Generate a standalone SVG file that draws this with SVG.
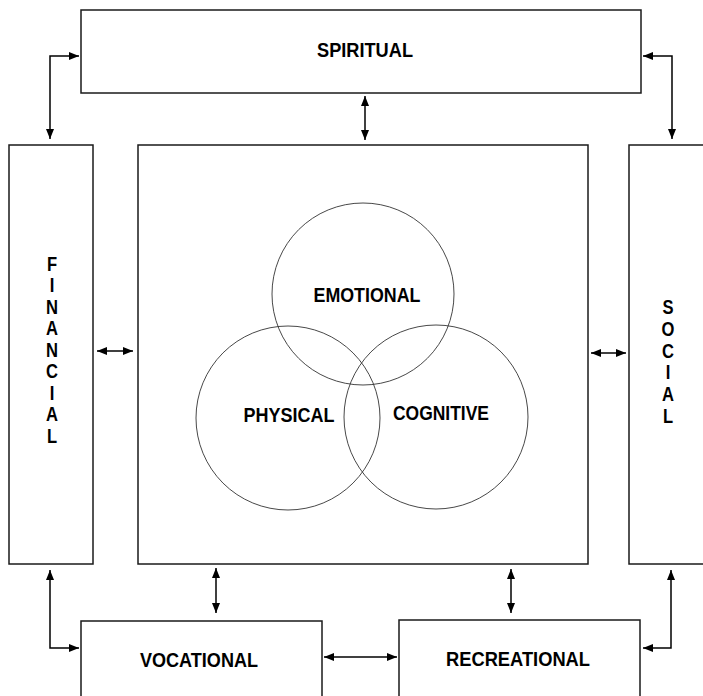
<svg xmlns="http://www.w3.org/2000/svg" width="703" height="696" viewBox="0 0 703 696">
<style>
.box{fill:#fff;stroke:#1a1a1a;stroke-width:1.5}
.circ{fill:none;stroke:#333;stroke-width:0.9}
.lbl{font-family:"Liberation Sans",Arial,sans-serif;font-weight:bold;font-size:19.5px;fill:#000;text-anchor:middle}
.con{fill:none;stroke:#000;stroke-width:1.5}
</style>
<defs>
<marker id="ah" markerUnits="userSpaceOnUse" markerWidth="10" markerHeight="8" refX="10" refY="4" orient="auto-start-reverse">
<path d="M0,0 L10,4 L0,8 Z" fill="#000"/>
</marker>
</defs>
<rect width="703" height="696" fill="#fff"/>
<g id="spiritual"><rect class="box" x="81" y="10" width="560" height="83"/><text class="lbl" x="365" y="57" textLength="96" lengthAdjust="spacingAndGlyphs">SPIRITUAL</text></g>
<g id="financial"><rect class="box" x="9" y="145" width="84" height="419"/>
<g transform="translate(52,0) scale(0.85,1)">
<text class="lbl" x="0" y="271">F</text><text class="lbl" x="0" y="292.5">I</text><text class="lbl" x="0" y="314">N</text><text class="lbl" x="0" y="335.5">A</text><text class="lbl" x="0" y="357">N</text><text class="lbl" x="0" y="378.5">C</text><text class="lbl" x="0" y="400">I</text><text class="lbl" x="0" y="421.5">A</text><text class="lbl" x="0" y="443">L</text></g></g>
<g id="center"><rect class="box" x="138" y="145" width="450" height="419"/></g>
<g id="social"><rect class="box" x="629" y="145" width="84" height="419"/>
<g transform="translate(668,0) scale(0.85,1)">
<text class="lbl" x="0" y="314">S</text><text class="lbl" x="0" y="335.8">O</text><text class="lbl" x="0" y="357.6">C</text><text class="lbl" x="0" y="379.4">I</text><text class="lbl" x="0" y="401.2">A</text><text class="lbl" x="0" y="423">L</text></g></g>
<g id="vocational"><rect class="box" x="81" y="621" width="241" height="83"/><text class="lbl" x="199" y="667" textLength="118" lengthAdjust="spacingAndGlyphs">VOCATIONAL</text></g>
<g id="recreational"><rect class="box" x="399" y="620" width="241" height="84"/><text class="lbl" x="518" y="666" textLength="144" lengthAdjust="spacingAndGlyphs">RECREATIONAL</text></g>
<g id="emotional"><circle class="circ" cx="363" cy="294" r="91"/><text class="lbl" x="367" y="302" textLength="107" lengthAdjust="spacingAndGlyphs">EMOTIONAL</text></g>
<g id="physical"><circle class="circ" cx="288" cy="418" r="92"/><text class="lbl" x="289" y="422" textLength="91" lengthAdjust="spacingAndGlyphs">PHYSICAL</text></g>
<g id="cognitive"><circle class="circ" cx="436" cy="417" r="92"/><text class="lbl" x="441" y="420" textLength="96" lengthAdjust="spacingAndGlyphs">COGNITIVE</text></g>
<g id="connectors">
<path class="con" d="M50,139 L50,56 L79,56" marker-start="url(#ah)" marker-end="url(#ah)"/>
<path class="con" d="M643,56 L672,56 L672,139" marker-start="url(#ah)" marker-end="url(#ah)"/>
<path class="con" d="M365,96 L365,140" marker-start="url(#ah)" marker-end="url(#ah)"/>
<path class="con" d="M97,351 L133,351" marker-start="url(#ah)" marker-end="url(#ah)"/>
<path class="con" d="M591,353 L626,353" marker-start="url(#ah)" marker-end="url(#ah)"/>
<path class="con" d="M50,570 L50,648 L79,648" marker-start="url(#ah)" marker-end="url(#ah)"/>
<path class="con" d="M671,570 L671,648 L643,648" marker-start="url(#ah)" marker-end="url(#ah)"/>
<path class="con" d="M216,568 L216,613" marker-start="url(#ah)" marker-end="url(#ah)"/>
<path class="con" d="M511,569 L511,613" marker-start="url(#ah)" marker-end="url(#ah)"/>
<path class="con" d="M324,657 L397,657" marker-start="url(#ah)" marker-end="url(#ah)"/>
</g>
</svg>
